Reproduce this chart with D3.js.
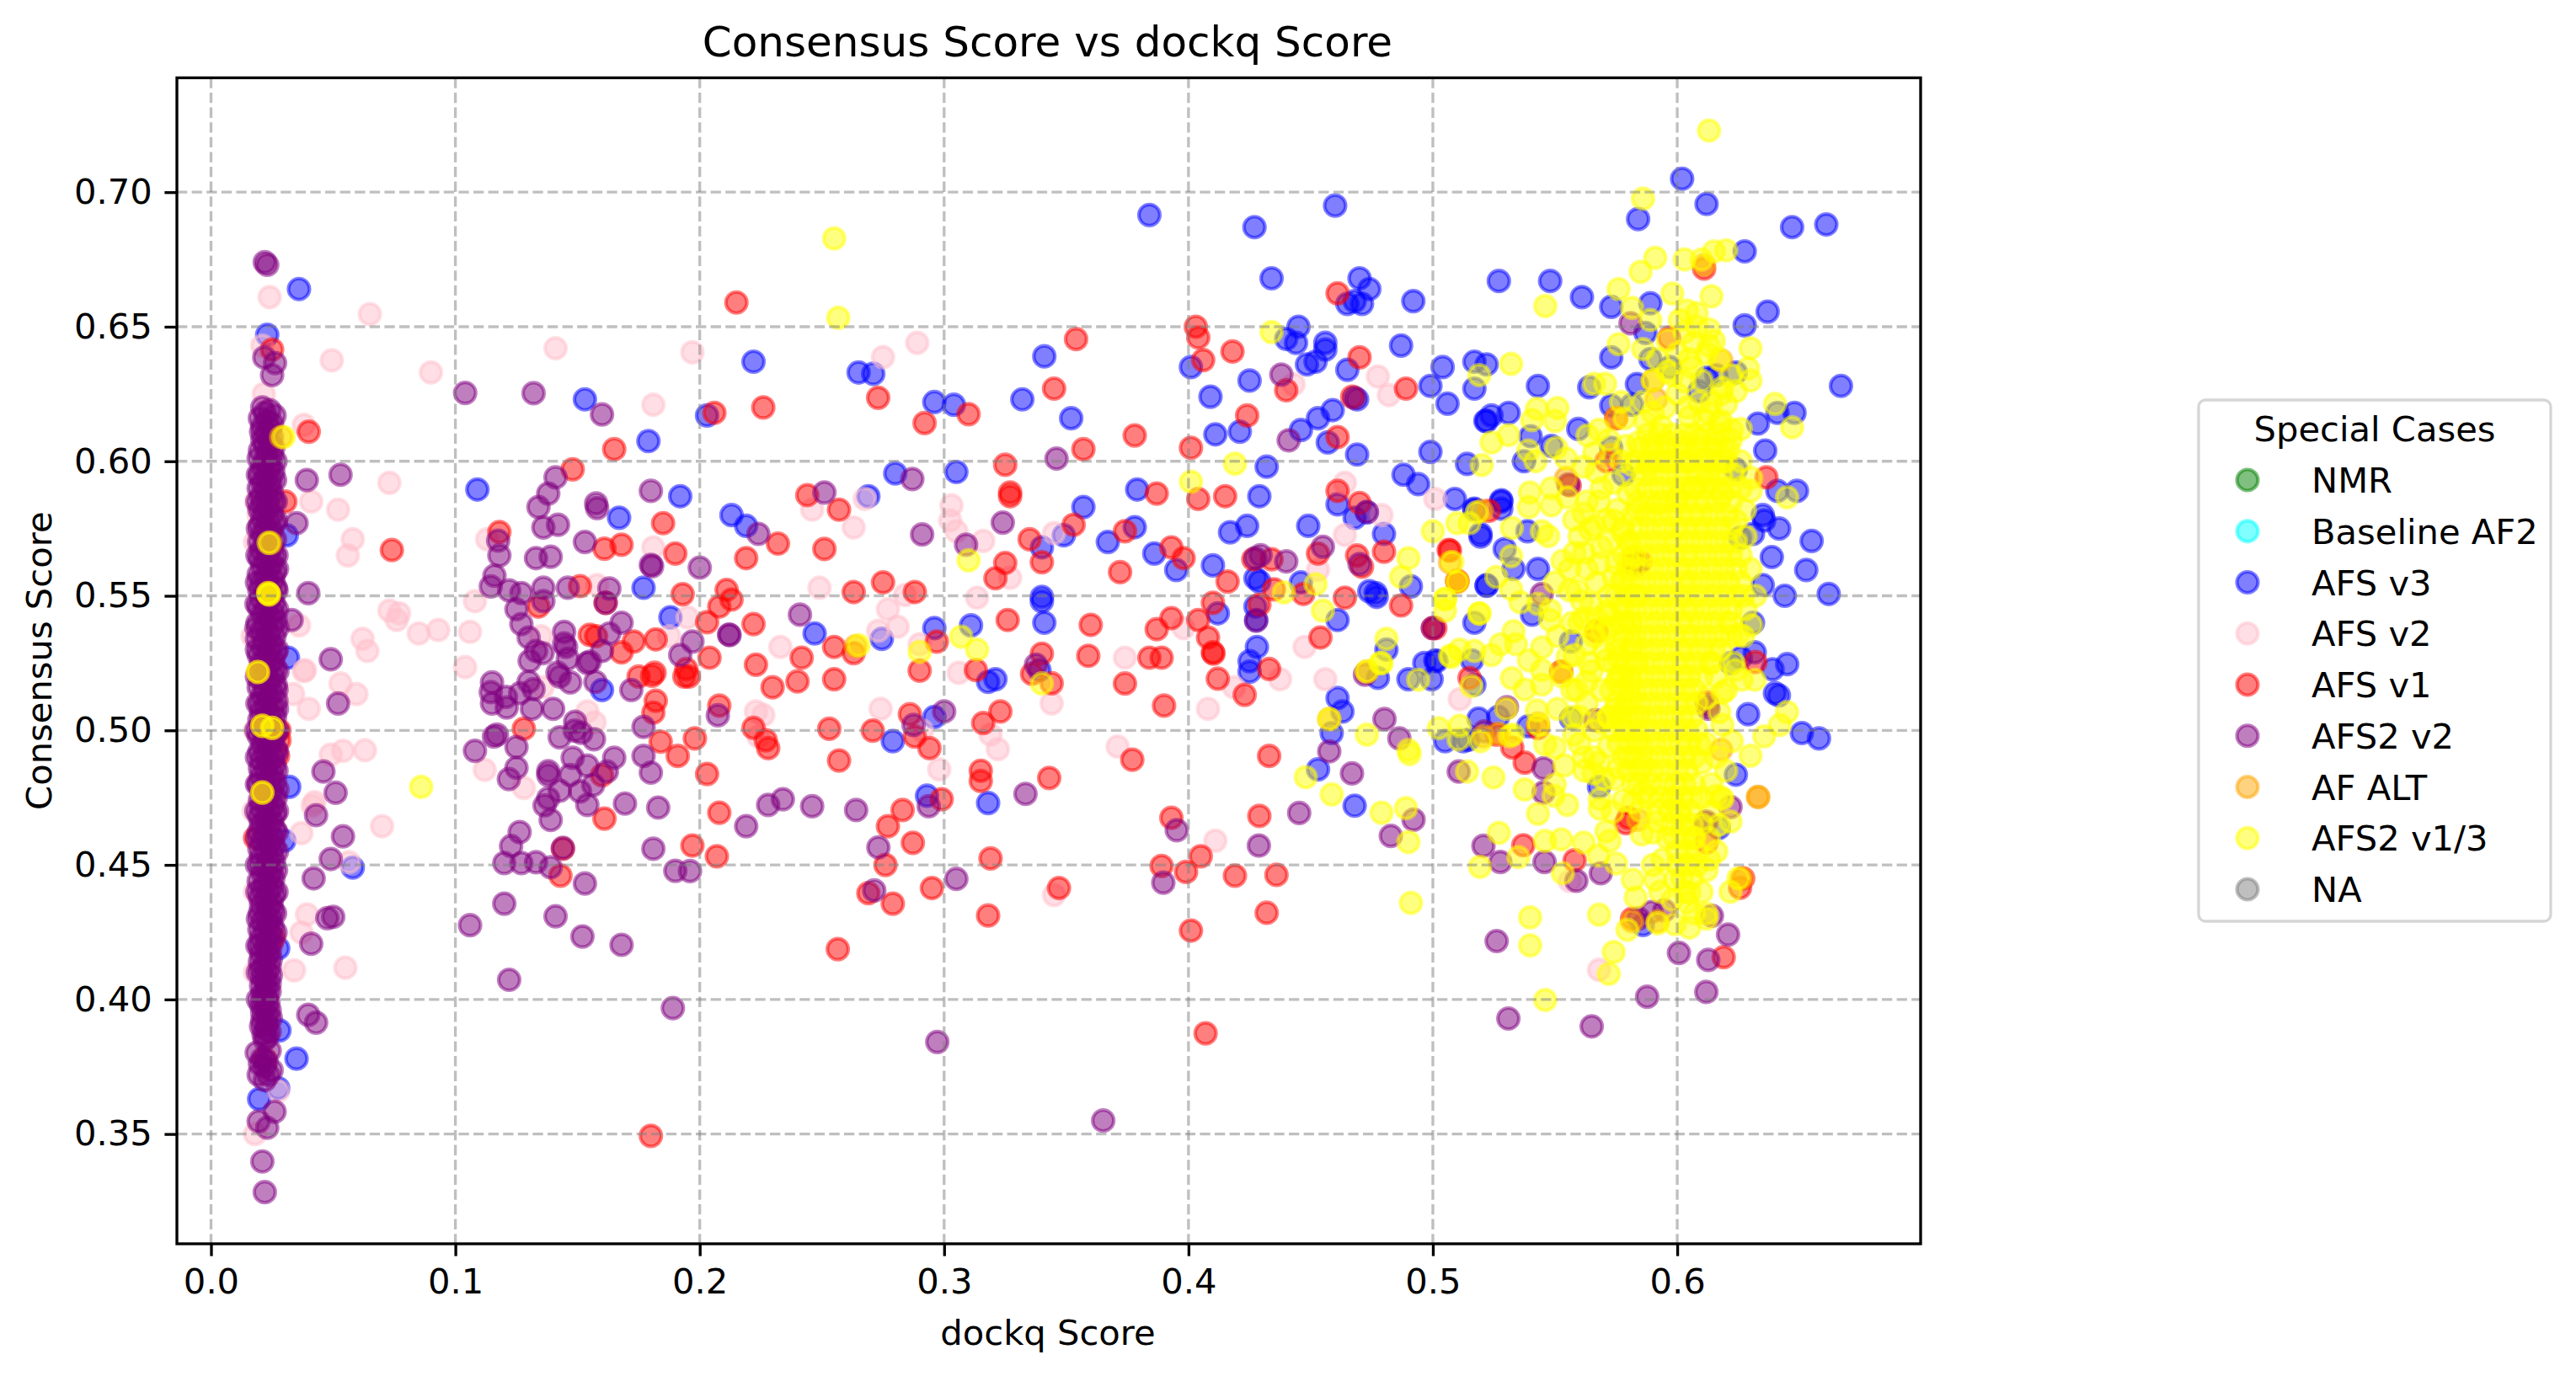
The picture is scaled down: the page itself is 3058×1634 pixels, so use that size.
<!DOCTYPE html>
<html><head><meta charset="utf-8">
<script src="https://cdn.jsdelivr.net/npm/d3@7"></script>
<style>html,body{margin:0;background:#fff}svg{display:block}text{font-family:"DejaVu Sans";fill:#000}</style>
</head><body><svg id="c" width="3058" height="1634"></svg>
<script>
const title="Consensus Score vs dockq Score", xLabel="dockq Score", yLabel="Consensus Score", legendTitle="Special Cases";
const xTicks=[0,.1,.2,.3,.4,.5,.6], yTicks=[.35,.4,.45,.5,.55,.6,.65,.7];
const nmr=[], baselineAf2=[], na=[];
const afsV3=[[.036,.664],[.023,.647],[.153,.623],[.179,.6075],[.203,.617],[.222,.637],[.109,.5895],[.167,.579],[.192,.587],[.213,.58],[.219,.576],[.177,.553],[.188,.542],[.247,.536],[.031,.5725],[.0315,.527],[.16,.515],[.032,.479],[.03,.459],[.058,.449],[.0275,.419],[.028,.3885],[.035,.378],[.0197,.363],[.0275,.367],
[.384,.6915],[.427,.687],[.46,.695],[.434,.668],[.47,.668],[.474,.664],[.465,.6585],[.468,.6595],[.471,.6585],[.492,.6595],[.527,.667],[.445,.65],[.44,.6455],[.444,.644],[.456,.644],[.456,.6415],[.452,.637],[.4485,.636],[.465,.634],[.487,.643],[.504,.635],[.517,.637],[.522,.636],[.517,.627],[.499,.628],[.506,.6214],[.522,.615],[.524,.617],[.531,.618],[.341,.639],[.265,.633],[.271,.6325],[.296,.622],[.304,.621],[.332,.623],[.352,.616],[.401,.635],[.409,.624],[.425,.63],[.411,.61],[.421,.611],[.446,.6116],[.453,.616],[.459,.619],[.469,.623],[.457,.607],[.469,.6025],[.499,.6035],[.514,.599],[.432,.598],[.28,.5955],[.305,.596],[.269,.587],[.379,.5895],[.429,.587],[.357,.583],[.488,.595],[.494,.5915],[.509,.586],[.528,.5855],[.461,.584],[.468,.579],[.473,.581],[.517,.582],[.48,.573],[.378,.5755],[.424,.576],[.417,.5736],[.449,.576],[.349,.5725],[.34,.568],[.367,.57],[.386,.5657],[.395,.5596],[.41,.5613],[.4274,.5565],[.429,.5553],[.446,.555],[.474,.5517],[.477,.5496],[.4766,.551],[.34,.5496],[.34,.548],[.341,.54],[.4274,.546],[.4277,.541],[.412,.5435],[.522,.554],[.491,.5535],[.461,.541],[.517,.54],[.481,.53],[.296,.538],[.311,.539],[.2745,.534],[.428,.531],
[.318,.518],[.321,.519],[.339,.5224],[.296,.505],[.279,.496],[.425,.5257],[.425,.5218],[.293,.4757],[.318,.473],[.4775,.5195],[.49,.519],[.4965,.525],[.5015,.5257],[.4995,.519],[.516,.526],[.517,.517],[.461,.512],[.463,.507],[.4586,.499],[.453,.4855],[.468,.472],[.5267,.505],[.5125,.496],[.5145,.4965],
[.602,.705],[.612,.6956],[.584,.69],[.647,.687],[.661,.688],[.6276,.678],[.548,.667],[.561,.661],[.573,.6574],[.589,.6587],[.6276,.6505],[.637,.6556],[.587,.6477],[.573,.6386],[.589,.638],[.597,.635],[.543,.628],[.564,.6275],[.5835,.6287],[.5815,.621],[.573,.6207],[.612,.631],[.616,.632],[.609,.626],[.624,.633],[.667,.628],[.5215,.615],[.633,.614],[.641,.618],[.648,.618],[.5595,.612],[.54,.6093],[.636,.604],[.5485,.6057],[.5373,.6],[.573,.605],[.578,.595],[.641,.589],[.649,.589],[.624,.597],[.517,.5824],[.528,.585],[.528,.5824],[.5387,.574],[.5195,.572],[.5195,.573],[.5294,.5674],[.533,.56],[.635,.58],[.6356,.578],[.631,.573],[.6257,.5716],[.6417,.575],[.655,.5704],[.6387,.5644],[.6528,.5596],[.635,.554],[.644,.55],[.662,.5507],[.522,.5537],[.543,.56],
[.5406,.543],[.631,.54],[.645,.5246],[.639,.5227],[.6317,.529],[.626,.527],[.622,.525],[.64,.5138],[.6416,.513],[.629,.506],[.651,.499],[.658,.497],[.505,.496],[.5187,.5044],[.539,.5015],[.5565,.533],[.624,.4835],[.617,.4637],[.586,.4277],[.568,.479],[.501,.526],[.5565,.5044]];
const afsV2=[[.024,.661],[.065,.6547],[.021,.643],[.0494,.6375],[.09,.633],[.141,.642],[.197,.6405],[.181,.621],[.0216,.625],[.038,.6135],[.073,.592],[.041,.585],[.052,.582],[.058,.571],[.056,.565],[.113,.571],[.181,.568],[.158,.554],[.108,.548],[.073,.5445],[.077,.5435],[.076,.541],[.085,.536],[.093,.5373],[.106,.5366],[.062,.534],[.064,.5295],[.036,.539],[.195,.542],[.1875,.535],[.135,.535],[.246,.582],[.249,.553],[.233,.531],[.0195,.58],[.0185,.585],[.038,.522],[.104,.5235],[.0384,.5224],[.053,.5174],[.0595,.5135],[.0336,.5135],[.04,.508],[.154,.507],[.157,.503],[.223,.507],[.226,.5057],[.224,.4977],[.049,.491],[.054,.4924],[.063,.4926],[.112,.4853],[.128,.4786],[.0424,.4733],[.0416,.472],[.037,.4618],[.07,.4644],[.0565,.451],[.0393,.4316],[.037,.4249],[.034,.4108],[.055,.4118],[.0275,.366],[.018,.35],[.1357,.516],[.018,.57],[.017,.535],[.018,.5],[.0175,.47],[.018,.44],[.018,.41],
[.289,.644],[.275,.6387],[.4775,.6315],[.482,.6246],[.443,.6286],[.464,.592],[.501,.586],[.303,.5836],[.2675,.586],[.263,.5754],[.3025,.578],[.305,.574],[.316,.5704],[.345,.5733],[.479,.58],[.464,.5726],[.327,.5567],[.284,.5503],[.3135,.5493],[.277,.545],[.273,.537],[.281,.5385],[.29,.532],[.398,.538],[.453,.5596],[.4475,.531],[.374,.527],[.306,.5214],[.344,.51],[.274,.508],[.319,.4984],[.322,.493],[.298,.4855],[.291,.5],[.371,.494],[.4186,.516],[.4375,.519],[.456,.519],[.408,.508],[.511,.5116],[.411,.459],[.345,.4388],[.556,.444],[.568,.411]];
const afsV1=[[.025,.6415],[.04,.611],[.165,.6045],[.148,.597],[.206,.618],[.226,.62],[.215,.659],[.0304,.585],[.074,.567],[.118,.5737],[.185,.577],[.161,.5675],[.168,.569],[.19,.5657],[.219,.564],[.232,.5694],[.251,.5674],[.244,.5874],[.257,.582],[.151,.5536],[.193,.5506],[.211,.5522],[.213,.5486],[.208,.546],[.203,.5402],[.222,.5395],[.155,.5355],[.1576,.535],[.173,.533],[.182,.5338],[.134,.546],[.1615,.5474],[.168,.529],[.204,.527],[.223,.5244],[.2417,.527],[.255,.531],[.175,.52],[.1805,.5203],[.1815,.5214],[.1937,.52],[.1945,.5228],[.1955,.52],[.182,.511],[.181,.5066],[.208,.5092],[.2298,.516],[.24,.5182],[.255,.519],[.184,.4958],[.198,.497],[.191,.4905],[.203,.4838],[.222,.5009],[.227,.4963],[.228,.4934],[.253,.5006],[.257,.4888],[.128,.5006],[.16,.4833],[.161,.4672],[.208,.4694],[.197,.4572],[.207,.4532],[.144,.456],[.143,.446],[.2565,.4187],[.18,.3493],[.022,.378],[.0257,.423],[.0274,.4905],[.028,.4963],[.028,.5],[.018,.46],
[.354,.6454],[.403,.65],[.404,.646],[.406,.6376],[.418,.6408],[.273,.6236],[.292,.6142],[.31,.6175],[.345,.627],[.378,.6096],[.401,.605],[.424,.617],[.44,.6264],[.461,.609],[.467,.624],[.47,.6386],[.461,.6624],[.357,.6045],[.325,.5987],[.327,.5884],[.327,.587],[.387,.588],[.404,.586],[.415,.587],[.489,.627],[.461,.589],[.47,.5845],[.48,.5664],[.353,.5764],[.374,.574],[.335,.571],[.393,.568],[.398,.564],[.4265,.5636],[.434,.5636],[.453,.5657],[.469,.565],[.471,.5608],[.325,.5622],[.321,.5565],[.34,.5625],[.372,.5588],[.416,.5553],[.435,.5524],[.447,.5507],[.464,.5493],[.487,.5464],[.5065,.567],[.51,.5553],[.263,.5514],[.275,.555],[.288,.5514],[.41,.5474],[.429,.5467],[.393,.5417],[.387,.5376],[.404,.541],[.408,.5345],[.41,.529],[.4102,.5285],[.326,.541],[.36,.5392],[.454,.5345],[.5,.538],[.34,.5285],[.359,.5277],[.384,.527],[.389,.527],[.297,.533],[.263,.5287],[.29,.5222],[.313,.5224],[.336,.521],[.344,.5175],[.374,.5174],[.39,.5092],[.412,.5192],[.423,.5132],[.433,.5228],[.286,.506],[.2708,.4999],[.288,.4977],[.294,.4934],[.316,.5027],[.323,.507],[.315,.485],[.315,.4812],[.299,.4744],[.343,.4823],[.283,.4704],[.277,.4644],[.2872,.4582],[.276,.45],[.269,.4395],[.279,.4356],[.295,.4414],[.319,.4524],[.318,.4312],[.347,.4414],[.377,.4891],[.393,.4675],[.389,.4496],[.399,.4474],[.405,.4532],[.419,.446],[.436,.4463],[.429,.4682],[.433,.4905],[.432,.4322],[.401,.4256],[.407,.3874],
[.611,.6716],[.5967,.6459],[.575,.616],[.571,.6],[.6365,.594],[.523,.5816],[.507,.5668],[.51,.5556],[.556,.591],[.585,.5626],[.582,.562],[.501,.538],[.5525,.5218],[.515,.5195],[.526,.4984],[.5325,.4936],[.5376,.488],[.537,.4573],[.579,.4655],[.58,.4675],[.5815,.43],[.612,.4583],[.619,.4157],[.627,.445],[.6257,.4415],[.632,.5254],[.543,.5008],[.612,.5104],[.558,.4517],[.567,.5368]];
const afs2V2=[[.022,.674],[.023,.673],[.0218,.6386],[.0262,.6365],[.025,.632],[.104,.6254],[.132,.6253],[.16,.6174],[.0392,.593],[.053,.595],[.035,.577],[.0398,.551],[.033,.541],[.049,.5264],[.141,.594],[.138,.588],[.134,.583],[.136,.5754],[.142,.5764],[.1175,.5705],[.118,.565],[.116,.5575],[.1145,.5535],[.1576,.5843],[.158,.5826],[.153,.57],[.133,.564],[.139,.5645],[.18,.589],[.18,.5615],[.1805,.561],[.2,.5605],[.136,.553],[.122,.552],[.127,.551],[.146,.553],[.163,.5527],[.1615,.5474],[.136,.548],[.125,.545],[.127,.5395],[.13,.5345],[.168,.54],[.163,.536],[.1445,.5366],[.1445,.5323],[.197,.533],[.192,.528],[.212,.5356],[.2122,.5354],[.241,.543],[.251,.5884],[.224,.573],[.133,.5295],[.1304,.5258],[.1357,.5287],[.1453,.531],[.146,.5266],[.16,.5295],[.154,.525],[.155,.5255],
[.115,.5178],[.1145,.5142],[.115,.51],[.1207,.5124],[.121,.5085],[.1265,.5138],[.132,.5153],[.13,.5181],[.1313,.508],[.14,.508],[.1418,.5214],[.1427,.52],[.147,.5178],[.1573,.518],[.172,.515],[.2074,.5056],[.177,.5013],[.149,.5032],[.1488,.4999],[.1515,.4991],[.1567,.4967],[.1427,.4974],[.1158,.4977],[.117,.4984],[.108,.4924],[.125,.4938],[.125,.4861],[.1219,.4819],[.148,.4898],[.154,.4869],[.165,.4898],[.177,.4905],[.18,.4843],[.162,.4847],[.138,.4848],[.138,.4834],[.147,.4834],[.1564,.4797],[.151,.4773],[.1427,.4776],[.138,.4747],[.1365,.4721],[.154,.4723],[.139,.4667],[.1694,.4728],[.183,.4713],[.219,.4644],[.228,.4723],[.234,.4744],[.246,.4718],[.1263,.4622],[.1228,.457],[.12,.4507],[.127,.4507],[.133,.451],[.139,.4491],[.144,.4563],[.153,.4431],[.181,.456],[.19,.4478],[.196,.4477],[.12,.4356],[.106,.4276],[.141,.4309],[.152,.4234],[.168,.4203],[.122,.4073],[.189,.3968],
[.052,.51],[.046,.4847],[.051,.4768],[.043,.4685],[.054,.4606],[.049,.4522],[.042,.445],[.0476,.4302],[.05,.4307],[.041,.4207],[.0398,.3943],[.043,.3914],[.0187,.3802],[.0227,.377],[.0195,.372],[.0248,.3737],[.026,.3583],[.0195,.3547],[.023,.3523],[.021,.3398],[.022,.3284],[.021,.378],[.024,.381],[.022,.375],[.02,.376],[.0235,.372],[.022,.37],
[.021,.62],[.024,.619],[.022,.618],[.026,.617],[.02,.616],[.023,.615],[.025,.614],[.021,.613],[.024,.612],[.0205,.611],[.0225,.61],[.025,.609],[.021,.608],[.024,.607],[.022,.606],[.0255,.605],[.02,.604],[.023,.603],[.025,.602],[.0195,.601],[.022,.6],[.0245,.599],[.021,.598],[.0235,.597],[.0255,.596],[.02,.595],[.0225,.594],[.0245,.593],[.021,.592],[.024,.591],[.0195,.59],[.0225,.589],[.025,.588],[.0205,.587],[.023,.586],[.0255,.585],[.021,.584],[.0235,.583],[.0198,.582],[.022,.581],[.025,.58],[.021,.579],[.0235,.578],[.026,.577],[.02,.576],[.0225,.575],[.0248,.574],[.021,.573],[.0238,.572],[.0262,.571],[.0197,.57],[.0222,.569],[.025,.568],[.0205,.567],[.0235,.566],[.0258,.565],[.02,.564],[.0225,.563],[.0248,.562],[.021,.561],[.0238,.56],[.0262,.559],[.0195,.558],[.0225,.557],[.0255,.556],[.0205,.555],[.023,.554],[.0265,.553],[.0198,.552],[.0222,.551],[.025,.55],[.0205,.549],[.0235,.548],[.0258,.547],[.0195,.546],[.0225,.545],[.0252,.544],[.021,.543],[.0238,.542],[.0265,.541],[.019,.54],[.0222,.539],[.025,.538],[.0205,.537],[.0235,.536],[.026,.535],[.0188,.534],[.022,.533],[.0248,.532],[.021,.531],[.0238,.53],[.0265,.529],[.0195,.528],[.0225,.527],[.0255,.526],[.0205,.525],[.0235,.524],[.0262,.523],[.02,.522],[.0225,.521],[.0255,.52],[.0205,.519],[.0238,.518],[.0265,.517],[.0195,.516],[.0222,.515],[.025,.514],[.021,.513],[.0235,.512],[.0268,.511],[.02,.51],[.0225,.509],[.0255,.508],[.0205,.507],[.0238,.506],[.0262,.505],[.0198,.504],[.0225,.503],[.025,.502],[.0205,.501],[.0235,.5],[.0265,.499],[.0195,.498],[.0222,.497],[.0252,.496],[.021,.495],[.0238,.494],[.0265,.493],[.0198,.492],[.0225,.491],[.0255,.49],[.0205,.489],[.0235,.488],[.026,.487],[.02,.486],[.0225,.485],[.025,.484],[.0205,.483],[.0238,.482],[.0262,.481],[.0195,.48],[.0222,.479],[.025,.478],[.021,.477],[.0235,.476],[.0265,.475],[.02,.474],[.0225,.473],[.0255,.472],[.0205,.471],[.0238,.47],[.0262,.469],[.0198,.468],[.0225,.467],[.025,.466],[.0205,.465],[.0235,.464],[.0262,.463],[.0195,.462],[.0222,.461],[.0252,.46],[.021,.459],[.0238,.458],[.0258,.457],[.0198,.456],[.0225,.455],[.025,.454],[.0205,.453],[.0235,.452],[.0258,.451],[.02,.45],[.0225,.449],[.0248,.448],[.021,.447],[.0238,.446],[.0255,.445],[.0195,.444],[.0222,.443],[.025,.442],[.021,.441],[.0235,.44],[.0258,.439],[.02,.438],[.0225,.437],[.0248,.436],[.0205,.435],[.0235,.434],[.0252,.433],[.02,.432],[.0225,.431],[.0245,.43],[.021,.429],[.0235,.428],[.0252,.427],[.0198,.426],[.0222,.425],[.0245,.424],[.0205,.423],[.023,.422],[.0248,.421],[.02,.42],[.0225,.419],[.024,.418],[.0205,.417],[.023,.416],[.0245,.415],[.02,.414],[.022,.413],[.024,.412],[.0205,.411],[.0228,.41],[.0245,.409],[.021,.408],[.0225,.407],[.024,.406],[.0205,.405],[.0225,.404],[.024,.403],[.021,.402],[.0228,.401],[.0212,.4],[.0235,.399],[.0205,.398],[.0225,.397],[.024,.396],[.021,.395],[.023,.394],[.0245,.393],[.021,.392],[.0228,.391],[.0205,.39],[.0225,.389],[.024,.388],[.0215,.387],[.023,.386],[.022,.385],
[.0268,.565],[.027,.56],[.0268,.552],[.027,.545],[.0272,.538],[.027,.53],[.0272,.522],[.0268,.515],[.027,.508],[.0272,.5],[.027,.492],[.0268,.485],[.0272,.478],[.027,.47],[.0268,.462],[.027,.455],[.0266,.448],[.0268,.44],[.0262,.432],[.0264,.425],[.0262,.593],[.0265,.585],[.0266,.578],[.0264,.6],
[.0192,.595],[.019,.585],[.0192,.575],[.019,.565],[.0188,.555],[.0186,.547],[.0186,.538],[.0188,.53],[.0188,.52],[.019,.51],[.0186,.5],[.0188,.49],[.0188,.48],[.0186,.47],[.019,.46],[.0188,.45],[.019,.44],[.0192,.43],[.019,.42],[.0192,.41],[.0192,.4],
[.438,.6322],[.441,.6078],[.468,.6236],[.346,.601],[.287,.5934],[.291,.5728],[.309,.569],[.324,.5772],[.4295,.5651],[.4274,.564],[.44,.5628],[.455,.5682],[.47,.5618],[.473,.5812],[.4277,.5407],[.5,.538],[.3376,.5244],[.3,.507],[.2875,.502],[.264,.4704],[.2731,.4565],[.2714,.4405],[.2937,.4718],[.3333,.4764],[.305,.4448],[.3952,.4629],[.3897,.4434],[.4453,.4693],[.4288,.4572],[.4576,.4922],[.4669,.484],[.4802,.5042],[.4863,.497],[.4921,.4668],[.4828,.4608],[.2972,.3842],[.3651,.355],[.4722,.5207],
[.5207,.4571],[.5276,.4511],[.5106,.4847],[.5453,.4859],[.5453,.4769],[.5457,.4511],[.5587,.4441],[.5687,.4469],[.5303,.5086],[.5664,.5038],[.5842,.4301],[.5895,.4325],[.5947,.4331],[.6142,.4311],[.6208,.4241],[.6007,.4173],[.6127,.4147],[.6119,.4028],[.5877,.401],[.5309,.3929],[.565,.39],[.5261,.4217],[.6218,.4715],[.6119,.4661],[.6125,.5092],[.5211,.4996],[.5809,.6513],[.5446,.5507],[.5554,.5914],[.6115,.4655],[.6128,.508],[.5828,.5628],[.5835,.5615]];
const afAlt=[[.0243,.5697],[.0234,.551],[.0237,.5505],[.0192,.5217],[.021,.5017],[.025,.5009],[.021,.4769],[.0287,.609],[.2638,.5313],[.618,.6375],[.59,.63],[.5914,.623],[.575,.616],[.573,.6025],[.5545,.5938],[.611,.673],[.52,.5816],[.507,.5624],[.51,.5554],[.582,.5644],[.633,.4753],[.6332,.4752],[.6264,.445],[.618,.4928],[.584,.4667],[.5815,.429],[.592,.429],[.527,.4988],[.543,.5026],[.5525,.5218],[.567,.5368],[.4576,.5042],[.473,.5218],[.5206,.4977]];
const afs2V13=[[.0297,.609],[.0236,.5697],[.0234,.551],[.0237,.5505],[.0192,.5217],[.021,.5017],[.025,.5009],[.021,.4769],[.255,.6828],[.2567,.6533],[.086,.479],
[.434,.648],[.519,.632],[.419,.5991],[.401,.5924],[.5,.574],[.51,.577],[.518,.581],[.515,.577],[.49,.564],[.487,.557],[.508,.5625],[.526,.557],[.505,.5488],[.505,.5445],[.519,.5435],[.439,.5513],[.452,.5543],[.455,.5445],[.31,.5632],[.51,.5553],[.481,.534],[.4785,.525],[.5075,.5273],[.511,.53],[.517,.5295],[.524,.528],[.265,.5316],[.29,.5292],[.3135,.53],[.307,.5348],[.532,.5525],[.532,.5647],
[.34,.5174],[.473,.522],[.479,.525],[.494,.5188],[.4576,.5042],[.473,.4984],[.49,.4927],[.4905,.4912],[.448,.4826],[.4586,.4762],[.479,.4694],[.489,.4711],[.49,.4585],[.491,.4359],[.511,.5017],
[.613,.7229],[.586,.6976],[.603,.675],[.591,.6756],[.585,.6704],[.61,.675],[.615,.678],[.62,.6784],[.576,.664],[.546,.6577],[.598,.6623],[.614,.6613],[.5815,.657],[.589,.6525],[.604,.656],[.608,.655],[.601,.6525],[.613,.649],[.615,.6447],[.63,.642],[.576,.6435],[.586,.6417],[.532,.6362],[.629,.6345],[.63,.63],[.566,.6288],[.5705,.6288],[.59,.63],[.596,.6333],[.603,.6297],[.605,.638],[.6066,.644],[.613,.643],[.617,.638],[.6185,.6273],[.624,.626],[.62,.6213],[.64,.6213],[.647,.6126],[.5426,.6195],[.551,.6198],[.55,.615],[.5406,.6153],[.577,.622],[.5785,.616],[.587,.6147],[.5934,.613],[.605,.6165],[.611,.6153],[.617,.614],[.626,.612],[.6224,.6117],[.568,.6117],[.5633,.6096],[.531,.6097],[.524,.607],[.539,.604],[.542,.6],[.5505,.605],[.52,.5986],[.5545,.601],[.5617,.598],[.567,.596],[.579,.6057],[.584,.607],[.5895,.6064],[.596,.607],[.6026,.607],[.609,.608],[.616,.607],[.621,.6045],[.5815,.5986],[.588,.5986],[.596,.5998],[.604,.5998],[.612,.601],[.6185,.5998],[.6303,.5938],[.645,.5866],[.63,.589],[.6277,.5818],[.5397,.5884],[.5485,.59],[.5393,.583],[.5485,.5836],[.555,.5866],[.5617,.5806],[.5323,.5752],[.5446,.574],[.5472,.5722],[.568,.585],[.5756,.582],[.584,.582],[.592,.5842],[.6,.5866],[.6066,.5902],[.6132,.5926],[.6185,.5878],[.5578,.5782],[.5644,.5746],[.571,.5782],[.5776,.5734],
[.5193,.4493],[.535,.4529],[.527,.4619],[.5376,.478],[.5248,.4825],[.514,.4847],[.5105,.4966],[.5024,.5008],[.5195,.496],[.5314,.4978],[.543,.469],[.555,.4723],[.5494,.4757],[.5459,.4589],[.5525,.4595],[.5617,.4583],[.5532,.4469],[.5677,.4535],[.575,.4505],[.5398,.4305],[.5398,.4201],[.568,.4315],[.5796,.4259],[.574,.4176],[.572,.4095],[.546,.3998],[.605,.4267],[.612,.4319],[.592,.4283],[.583,.4379],[.5818,.4445],[.591,.4445],[.599,.4445],[.605,.4397],[.612,.448],[.6218,.44],[.625,.445],[.6172,.4649],[.6218,.4661],[.6158,.4757],[.6185,.4745],[.6356,.4978],[.642,.502],[.6449,.5068],[.63,.4906],[.6224,.496],[.6185,.502],[.6172,.5068],[.6185,.514],[.6264,.5188],[.6317,.5188],[.6237,.5224],[.6303,.5392],[.625,.5356],[.5158,.5164],[.519,.5434],[.505,.5488],[.507,.5278],[.5277,.532],[.533,.5368],[.5358,.5476],[.548,.5446],[.5479,.541],[.534,.532],[.5446,.5308],[.5446,.5224],[.5393,.526],[.5551,.5272],[.5617,.5416],[.567,.5416],[.5723,.5428],[.5323,.5194],[.5376,.5152],[.5446,.517],[.5426,.5074],[.53,.508],[.5433,.502],[.5327,.4984],[.546,.4948],[.5499,.4936],[.5538,.487],[.5499,.4799],[.5578,.4984],[.5617,.49],[.5657,.484],[.5683,.4745],[.5683,.4709],[.5736,.4697],[.571,.4625],[.5723,.4589],[.5818,.4733],[.5855,.4613],[.592,.4661],[.5974,.4745],[.6013,.4685],[.6066,.4601],
[.553,.563],[.558,.566],[.563,.56],[.569,.568],[.575,.562],[.58,.57],[.55,.555],[.556,.552],[.561,.548],[.567,.555],[.572,.55],[.578,.556],[.543,.547],[.551,.535],[.557,.54],[.563,.532],[.569,.538],[.575,.532],[.581,.54],[.553,.52],[.559,.515],[.565,.522],[.571,.526],[.577,.52],[.583,.525],[.551,.508],[.557,.505],[.563,.51],[.569,.503],[.575,.508],[.581,.512],[.56,.495],[.566,.49],[.572,.494],[.578,.5],[.584,.496],[.57,.482],[.576,.486],[.582,.48],[.586,.487],[.578,.474],[.585,.47],
[.588,.61],[.593,.61],[.598,.61],[.603,.61],[.607,.61],[.612,.61],[.617,.61],[.585,.605],[.59,.605],[.595,.605],[.6,.605],[.604,.605],[.609,.605],[.614,.605],[.619,.605],[.583,.6],[.588,.6],[.592,.6],[.597,.6],[.602,.6],[.606,.6],[.611,.6],[.616,.6],[.62,.6],[.586,.595],[.59,.595],[.595,.595],[.6,.595],[.604,.595],[.609,.595],[.613,.595],[.618,.595],[.583,.59],[.588,.59],[.593,.59],[.598,.59],[.602,.59],[.607,.59],[.611,.59],[.616,.59],[.621,.59],[.584,.585],[.589,.585],[.594,.585],[.599,.585],[.603,.585],[.608,.585],[.612,.585],[.617,.585],[.582,.58],[.587,.58],[.592,.58],[.597,.58],[.601,.58],[.606,.58],[.61,.58],[.615,.58],[.62,.58],[.584,.575],[.589,.575],[.594,.575],[.599,.575],[.603,.575],[.608,.575],[.612,.575],[.617,.575],[.622,.575],[.581,.57],[.586,.57],[.591,.57],[.596,.57],[.6,.57],[.605,.57],[.61,.57],[.615,.57],[.62,.57],[.624,.57],[.578,.565],[.583,.565],[.588,.565],[.593,.565],[.598,.565],[.603,.565],[.607,.565],[.612,.565],[.617,.565],[.622,.565],[.58,.56],[.585,.56],[.59,.56],[.595,.56],[.6,.56],[.604,.56],[.609,.56],[.614,.56],[.619,.56],[.624,.56],[.577,.555],[.582,.555],[.587,.555],[.592,.555],[.597,.555],[.602,.555],[.606,.555],[.611,.555],[.616,.555],[.621,.555],[.626,.555],[.575,.55],[.58,.55],[.585,.55],[.59,.55],[.595,.55],[.6,.55],[.604,.55],[.609,.55],[.614,.55],[.619,.55],[.624,.55],[.578,.545],[.583,.545],[.588,.545],[.593,.545],[.598,.545],[.603,.545],[.607,.545],[.612,.545],[.617,.545],[.622,.545],[.576,.54],[.581,.54],[.586,.54],[.591,.54],[.596,.54],[.601,.54],[.605,.54],[.61,.54],[.615,.54],[.62,.54],[.578,.535],[.583,.535],[.588,.535],[.593,.535],[.598,.535],[.603,.535],[.607,.535],[.612,.535],[.617,.535],[.622,.535],[.576,.53],[.581,.53],[.586,.53],[.591,.53],[.596,.53],[.601,.53],[.605,.53],[.61,.53],[.615,.53],[.574,.525],[.579,.525],[.584,.525],[.589,.525],[.594,.525],[.599,.525],[.603,.525],[.608,.525],[.613,.525],[.576,.52],[.581,.52],[.586,.52],[.591,.52],[.596,.52],[.601,.52],[.605,.52],[.61,.52],[.573,.515],[.578,.515],[.583,.515],[.588,.515],[.593,.515],[.598,.515],[.603,.515],[.607,.515],[.575,.51],[.58,.51],[.585,.51],[.59,.51],[.595,.51],[.6,.51],[.604,.51],[.608,.51],[.572,.505],[.577,.505],[.582,.505],[.587,.505],[.592,.505],[.597,.505],[.602,.505],[.606,.505],[.574,.5],[.579,.5],[.584,.5],[.589,.5],[.594,.5],[.599,.5],[.604,.5],[.608,.5],[.576,.495],[.581,.495],[.586,.495],[.591,.495],[.596,.495],[.601,.495],[.605,.495],[.609,.495],[.578,.49],[.583,.49],[.588,.49],[.593,.49],[.598,.49],[.603,.49],[.607,.49],[.58,.485],[.585,.485],[.59,.485],[.595,.485],[.6,.485],[.604,.485],[.584,.48],[.589,.48],[.594,.48],[.599,.48],[.603,.48],[.607,.48],[.588,.475],[.593,.475],[.598,.475],[.602,.475],[.606,.475],[.597,.47],[.601,.47],[.605,.47],[.598,.465],[.602,.465],[.606,.465],[.599,.46],[.603,.46],[.607,.46],[.6,.455],[.604,.455],[.608,.455],[.6,.45],[.604,.45],[.602,.445],[.606,.445],[.598,.437],[.604,.436],[.593,.44],
[.572,.608],[.577,.6],[.566,.603],[.574,.592],[.58,.588],[.569,.59],[.563,.585],[.574,.578],[.56,.572],[.566,.576],[.572,.57],[.578,.575],[.556,.56],[.562,.566],[.568,.562],[.574,.557],[.58,.563],[.559,.552],[.565,.547],[.571,.544],[.577,.547],[.583,.55],[.56,.54],[.566,.535],[.572,.538],[.578,.54],[.558,.528],[.564,.525],[.57,.53],[.576,.527],[.582,.532],[.557,.515],[.563,.518],[.569,.515],[.575,.518],[.581,.518],[.56,.505],[.566,.5],[.572,.505],[.578,.508],[.584,.505],[.562,.485],[.568,.488],[.574,.482],[.58,.49],[.586,.477],[.592,.47],[.59,.462],[.596,.46],[.594,.452],[.59,.45],[.612,.495],[.616,.49],[.62,.485],[.61,.488],[.614,.48],[.618,.475],[.61,.475],[.614,.47],[.61,.465],[.613,.46],[.608,.45],[.613,.452],[.603,.44],[.61,.44],[.616,.455],[.612,.43],[.607,.432],[.599,.428],
[.612,.512],[.616,.52],[.62,.515],[.614,.525],[.618,.53],[.623,.525],[.627,.535],[.622,.54],[.628,.545],[.632,.55],[.627,.55],[.63,.56],[.626,.565],[.628,.572],[.624,.578],[.622,.585],[.626,.59],[.623,.595],[.626,.6],[.622,.608],[.618,.615],[.613,.618],[.609,.622],[.604,.62],[.6,.625],[.595,.62],[.59,.618],[.586,.622],[.614,.622],[.61,.63],[.606,.635],[.612,.64],[.6,.64],[.596,.645],[.603,.648],[.608,.65],[.618,.625],[.622,.632],[.592,.638],[.598,.632]];
const seriesNames=["NMR","Baseline AF2","AFS v3","AFS v2","AFS v1","AFS2 v2","AF ALT","AFS2 v1/3","NA"];
const seriesColors=["green","cyan","blue","pink","red","purple","orange","yellow","gray"];
const seriesData=[nmr,baselineAf2,afsV3,afsV2,afsV1,afs2V2,afAlt,afs2V13,na];

const svg=d3.select("#c");
const L=210,R=2280,T=92.4,B=1477,fs=41.67;
const x=d3.scaleLinear().domain([-.01396,.6996]).range([L,R]);
const y=d3.scaleLinear().domain([.3092,.7425]).range([B,T]);
const mark=(sel,c)=>sel.attr("fill",c).attr("fill-opacity",.5).attr("stroke",c).attr("stroke-opacity",.5).attr("stroke-width",4.17);
seriesData.forEach((d,i)=>{
  svg.append("g").selectAll("circle").data(d).join("circle")
    .attr("cx",p=>x(p[0])).attr("cy",p=>y(p[1])).attr("r",12.5).call(mark,seriesColors[i]);
});
const grid=svg.append("g").attr("stroke","#808080").attr("stroke-opacity",.5).attr("stroke-width",3.33).attr("stroke-dasharray","12.3 5.3");
grid.selectAll(".gx").data(xTicks).join("line").attr("x1",d=>x(d)).attr("x2",d=>x(d)).attr("y1",T).attr("y2",B);
grid.selectAll(".gy").data(yTicks).join("line").attr("y1",d=>y(d)).attr("y2",d=>y(d)).attr("x1",L).attr("x2",R);
const styleAxis=g=>{g.select(".domain").remove();g.selectAll(".tick line").attr("stroke","#000").attr("stroke-width",3.33);
  g.selectAll("text").style("font-size",fs+"px").style("font-family","DejaVu Sans").attr("fill","#000");};
svg.append("g").attr("transform",`translate(0,${B})`).call(d3.axisBottom(x).tickValues(xTicks).tickFormat(d3.format(".1f")).tickSize(14.6).tickPadding(14.6)).call(styleAxis);
svg.append("g").attr("transform",`translate(${L},0)`).call(d3.axisLeft(y).tickValues(yTicks).tickFormat(d3.format(".2f")).tickSize(14.6).tickPadding(14.6)).call(styleAxis);
svg.append("rect").attr("x",L).attr("y",T).attr("width",R-L).attr("height",B-T).attr("fill","none").attr("stroke","#000").attr("stroke-width",3.33);
svg.append("text").attr("x",(L+R)/2-1.5).attr("y",67).attr("text-anchor","middle").style("font-size","50px").text(title);
svg.append("text").attr("x",(L+R)/2-1).attr("y",1597).attr("text-anchor","middle").style("font-size",fs+"px").text(xLabel);
svg.append("text").attr("transform",`translate(61,${(T+B)/2}) rotate(-90)`).attr("text-anchor","middle").style("font-size",fs+"px").text(yLabel);
const lg=svg.append("g");
lg.append("rect").attr("x",2610).attr("y",475).attr("width",418).attr("height",619).attr("rx",8).attr("fill","#fff").attr("stroke","#d6d6d6").attr("stroke-width",3.33);
lg.append("text").attr("x",2819).attr("y",524).attr("text-anchor","middle").style("font-size",fs+"px").text(legendTitle);
const ly=d3.scalePoint().domain(seriesNames).range([570,1056]);
seriesNames.forEach((n,i)=>{
  lg.append("circle").attr("cx",2668).attr("cy",ly(n)).attr("r",12.5).call(mark,seriesColors[i]);
  lg.append("text").attr("x",2744).attr("y",ly(n)+15).style("font-size",fs+"px").text(n);
});
</script></body></html>
